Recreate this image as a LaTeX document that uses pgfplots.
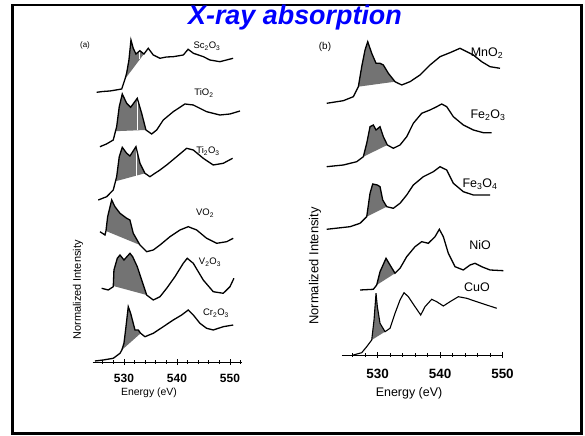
\documentclass[border=0pt]{standalone}
\usepackage{fontspec}
\setmainfont{Liberation Sans}
\usepackage{pgfplots}
\pgfplotsset{compat=1.18}
\pgfplotsset{curve/.style={black, mark=none, line width=1.3bp},
  shade/.style={fill=black!55, draw=none, mark=none}}
\begin{document}
\begin{tikzpicture}[x=1bp,y=1bp]
\path[use as bounding box] (0,0) rectangle (585,436);
\fill[white] (0,0) rectangle (585,436);
\draw[line width=2.5bp] (12.5,2.5) rectangle (581.5,431);
\node[font=\fontsize{27}{30}\selectfont\bfseries\itshape, text=blue] at (295,418) {X-ray absorption};

% ---------- panel (a)
\begin{axis}[at={(92.7bp,74bp)}, anchor=south west, scale only axis, width=148.9bp, height=330bp,
  xmin=524.1, xmax=552.2, ymin=0, ymax=330,
  axis x line=bottom, axis y line=none, x axis line style={-, line width=0.9bp},
  clip=false,
  xtick={530,540,550}, xticklabels={530,540,550},
  minor xtick={526,528,532,534,536,538,542,544,546,548,552},
  tick align=center, major tick length=6bp, minor tick length=4bp,
  tick style={black, line width=0.8bp},
  xticklabel style={font=\fontsize{12}{14}\selectfont\bfseries, anchor=north, inner sep=0pt, yshift=-9bp},
]
\addplot[shade] coordinates {(530.2,283)(530.5,288.7)(530.94,302)(531.32,322)(531.75,313.7)(532.26,308)(533.0,311.3)(533.77,308)(534.58,313.7)} --cycle;
\addplot[shade] coordinates {(528.4,230.8)(528.62,235.3)(529.11,255.3)(529.68,268)(530.51,258.7)(531.26,254.7)(532.51,263.7)(533.34,248.7)(534.15,232)} --cycle;
\addplot[shade] coordinates {(528.4,180.7)(528.62,185.3)(529.11,205.3)(529.68,214.7)(530.51,208.7)(531.13,206)(532.26,215.3)(533.02,198.7)(533.96,188.7)} --cycle;
\addplot[shade] coordinates {(526.6,131)(526.92,145.3)(527.68,162)(528.3,155.3)(529.25,148.7)(530.51,143.7)(531.13,142)(531.75,128.7)(533.02,117)} --cycle;
\addplot[shade] coordinates {(528.0,76)(528.11,92)(528.74,103.7)(529.25,107)(530.0,102)(531.13,108.7)(531.64,105.3)(532.51,95.3)(533.34,82)(534.28,67)} --cycle;
\addplot[shade] coordinates {(529.6,12)(530.0,18.7)(530.38,35.3)(530.81,55.3)(531.26,48.7)(532.08,32)(532.7,32)(533.15,28.7)} --cycle;
\addplot[white, mark=none, line width=0.9bp] coordinates {(533.0,302.6)(533.0,310)};
\addplot[white, mark=none, line width=0.9bp] coordinates {(532.5,231.7)(532.5,262)};
\addplot[white, mark=none, line width=0.9bp] coordinates {(532.3,186.3)(532.3,213)};
% Sc2O3
\addplot[curve] coordinates {(524.85,269.7)(526.0,270.5)(527.36,271)(528.5,272)(529.57,273)(530.2,283)(530.5,288.7)(530.94,302)(531.32,322)(531.75,313.7)(532.26,308)(533.0,311.3)(533.77,308)(534.58,313.7)(535.53,307)(536.8,303.7)(538.0,305)(539.3,305.3)(541.2,307)(542.1,312.7)(543.1,308.7)(545.0,305.3)(546.2,302)(548.1,300.3)(550.6,303.7)};
% TiO2
\addplot[curve] coordinates {(525.47,215.3)(526.7,218)(527.98,222)(528.4,230.8)(528.62,235.3)(529.11,255.3)(529.68,268)(530.51,258.7)(531.26,254.7)(532.51,263.7)(533.34,248.7)(534.15,232)(535.23,228)(536.17,232)(537.42,242)(539.3,250.3)(541.5,258)(543.08,257)(545.6,250.3)(548.1,247)(550.0,248)(551.9,251)};
% Ti2O3
\addplot[curve] coordinates {(525.15,162)(526.74,165.3)(527.98,172)(528.4,180.7)(528.62,185.3)(529.11,205.3)(529.68,214.7)(530.51,208.7)(531.13,206)(532.26,215.3)(533.02,198.7)(533.96,188.7)(534.9,185.3)(535.85,188.7)(536.8,192)(538.06,197)(539.94,205.3)(541.83,213.7)(543.08,212)(544.96,203.7)(546.85,197)(548.74,198.7)(550.5,203.7)};
% VO2
\addplot[curve] coordinates {(525.47,130.3)(526.42,127)(526.6,131)(526.92,145.3)(527.68,162)(528.3,155.3)(529.25,148.7)(530.51,143.7)(531.13,142)(531.75,128.7)(533.02,117)(534.28,110.3)(535.53,112)(536.8,117)(538.68,125.3)(540.57,132)(542.13,135.3)(543.72,132)(545.6,123.7)(547.5,118.7)(549.38,120.3)(550.62,123.7)};
% V2O3
\addplot[curve] coordinates {(525.79,73.7)(527.04,72)(527.98,75.3)(528.11,92)(528.74,103.7)(529.25,107)(530.0,102)(531.13,108.7)(531.64,105.3)(532.51,95.3)(533.34,82)(534.28,67)(535.53,62)(536.8,65.3)(538.06,73.7)(539.62,85.3)(541.19,98.7)(541.94,103.7)(543.08,98.7)(544.96,82)(546.85,70.3)(548.74,68.7)(550.0,75.3)(550.75,83.7)};
% Cr2O3
\addplot[curve] coordinates {(524.53,1)(526.09,2)(527.98,3.7)(529.25,8.7)(529.6,12)(530.0,18.7)(530.38,35.3)(530.81,55.3)(531.26,48.7)(532.08,32)(532.7,32)(533.15,28.7)(533.96,25.3)(535.53,28.7)(537.42,35.3)(539.3,42)(540.89,47)(542.13,52)(543.08,47)(544.34,38.7)(545.6,33.7)(546.85,32)(548.74,35.3)(550.62,37)};
\end{axis}

% ---------- panel (b)
\begin{axis}[at={(341.9bp,81bp)}, anchor=south west, scale only axis, width=160.6bp, height=320bp,
  xmin=524.3, xmax=550, ymin=0, ymax=320,
  axis x line=bottom, axis y line=none, x axis line style={-, line width=0.9bp},
  clip=false,
  xtick={530,540,550}, xticklabels={530,540,550},
  minor xtick={526,528,532,534,536,538,542,544,546,548},
  tick align=center, major tick length=6bp, minor tick length=4bp,
  tick style={black, line width=0.8bp},
  xticklabel style={font=\fontsize{13.5}{15}\selectfont\bfseries, anchor=north, inner sep=0pt, yshift=-11bp},
]
\addplot[shade] coordinates {(526.93,268.3)(527.47,288.3)(528.0,305)(528.43,313.3)(529.07,301.7)(529.76,291.7)(530.4,291.7)(530.93,290)(531.73,281.7)(532.8,273.3)} --cycle;
\addplot[shade] coordinates {(527.73,198.3)(528.27,211.7)(528.8,228.3)(529.33,230)(529.76,225)(530.4,228.3)(530.93,218.3)(531.57,210)} --cycle;
\addplot[shade] coordinates {(528.27,138.3)(528.8,161.7)(529.23,171)(529.97,170)(530.4,168.3)(530.83,155)(531.47,148.3)} --cycle;
\addplot[shade] coordinates {(529.87,70)(530.4,83.3)(531.36,96.7)(532.0,90)(532.8,81.7)} --cycle;
\addplot[shade] coordinates {(529.07,15)(529.44,35)(529.76,61.7)(529.97,48.3)(530.4,31.7)(531.2,23.3)} --cycle;
% MnO2
\addplot[curve] coordinates {(521.87,251.7)(524.53,254.3)(526.13,258.3)(526.93,268.3)(527.47,288.3)(528.0,305)(528.43,313.3)(529.07,301.7)(529.76,291.7)(530.4,291.7)(530.93,290)(531.73,281.7)(532.8,273.3)(533.87,270)(535.2,273.3)(536.8,280)(538.4,290)(540.0,298.3)(541.6,302.3)(543.2,306.7)(544.27,303.3)(545.33,300)(546.67,293.3)(548.0,288.3)(549.6,286.7)};
% Fe2O3
\addplot[curve] coordinates {(521.87,188.3)(524.53,190)(526.67,193.3)(527.73,198.3)(528.27,211.7)(528.8,228.3)(529.33,230)(529.76,225)(530.4,228.3)(530.93,218.3)(531.57,210)(532.53,206.7)(533.6,210)(534.67,218.3)(535.73,231.7)(537.07,241.7)(538.4,245)(539.47,248.3)(540.27,251)(541.07,248.3)(542.13,238.3)(543.73,230)(545.33,225)(546.93,222.3)(548.27,222.3)};
% Fe3O4
\addplot[curve] coordinates {(521.87,125.7)(525.6,128.3)(527.2,131.7)(528.27,138.3)(528.8,161.7)(529.23,171)(529.97,170)(530.4,168.3)(530.83,155)(531.47,148.3)(532.53,146.7)(533.6,151.7)(534.67,160)(535.73,170)(537.33,178.3)(538.93,183.3)(540.0,188.3)(541.07,185)(542.13,171.7)(543.73,163.3)(545.33,160)(548.0,160)};
% NiO
\addplot[curve] coordinates {(527.2,65)(529.33,65.7)(529.87,70)(530.4,83.3)(531.36,96.7)(532.0,90)(532.8,81.7)(533.6,86.7)(534.67,98.3)(536.0,108.3)(537.07,113.3)(538.13,111.7)(539.2,118.3)(539.89,125.7)(540.53,118.3)(541.33,101.7)(542.4,88.3)(543.73,85)(544.8,90)(545.6,91.7)(546.67,88.3)(548.0,85)(550.13,84.3)};
% CuO
\addplot[curve, line width=1.1bp] coordinates {(526.13,0)(527.47,2.3)(528.27,8.3)(529.07,15)(529.44,35)(529.76,61.7)(529.97,48.3)(530.4,31.7)(531.2,23.3)(532.0,26.7)(532.8,41.7)(533.6,55)(534.24,62.3)(534.93,58.3)(536.0,48.3)(536.91,40)(537.6,48.3)(538.67,55.7)(539.47,53.3)(540.53,49)(541.6,53.3)(542.93,58.3)(544.27,56.7)(545.87,53.3)(547.47,50)(549.07,46.7)};
\end{axis}

% ---------- labels
\node[font=\fontsize{10.5}{12}\selectfont] at (149,43) {Energy (eV)};
\node[font=\fontsize{12.5}{14}\selectfont] at (409,43) {Energy (eV)};
\node[font=\fontsize{11}{13}\selectfont, rotate=90] at (78,146) {Normalized Intensity};
\node[font=\fontsize{13}{15}\selectfont, rotate=90] at (315,170) {Normalized Intensity};
\node[font=\fontsize{8}{10}\selectfont] at (85,391) {(a)};
\node[font=\fontsize{10}{12}\selectfont] at (325,389) {(b)};
\begin{scope}[every node/.style={font=\fontsize{9.5}{11}\selectfont}]
\node at (207,390) {Sc\textsubscript{2}O\textsubscript{3}};
\node at (204,343) {TiO\textsubscript{2}};
\node at (208,285) {Ti\textsubscript{2}O\textsubscript{3}};
\node at (205,223) {VO\textsubscript{2}};
\node at (210,174) {V\textsubscript{2}O\textsubscript{3}};
\node at (216,123) {Cr\textsubscript{2}O\textsubscript{3}};
\end{scope}
\begin{scope}[every node/.style={font=\fontsize{12.5}{14}\selectfont}]
\node at (487,383) {MnO\textsubscript{2}};
\node at (488,321) {Fe\textsubscript{2}O\textsubscript{3}};
\node at (480,252) {Fe\textsubscript{3}O\textsubscript{4}};
\node at (480,191) {NiO};
\node at (477,149) {CuO};
\end{scope}
\end{tikzpicture}
\end{document}
